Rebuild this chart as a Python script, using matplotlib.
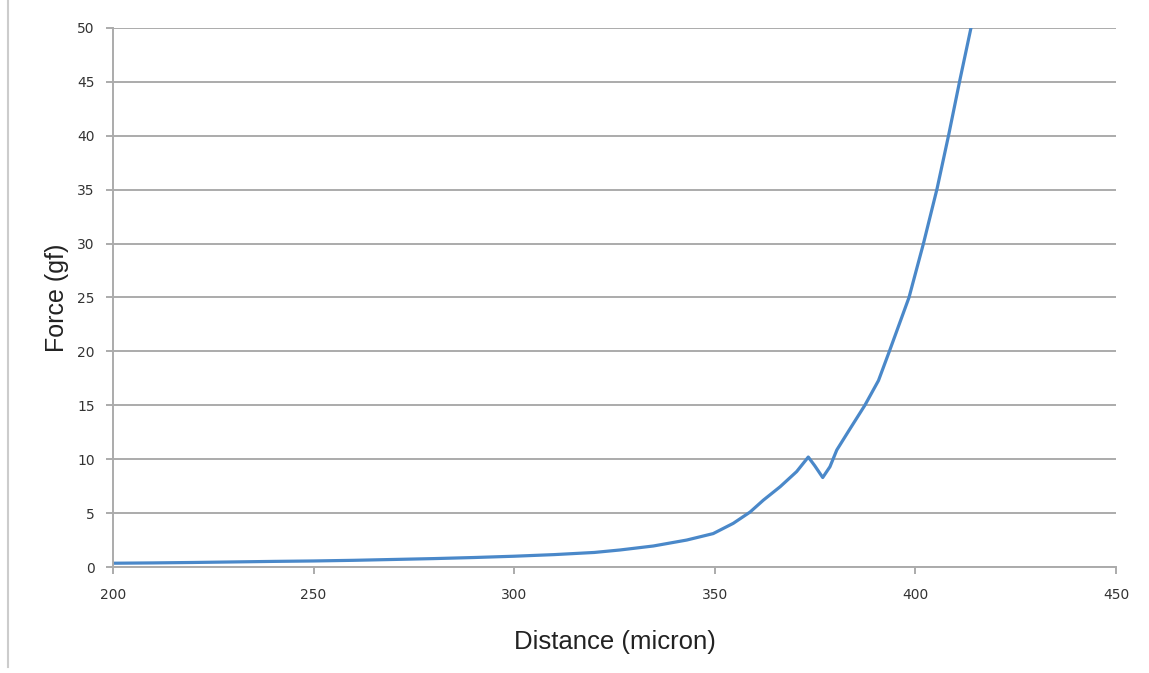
import matplotlib.pyplot as plt
from matplotlib.lines import Line2D

# force vs. distance readings
distance = [200, 210, 220, 230, 240, 250, 260, 270, 280, 290, 300, 310, 320,
            326.4, 334.7, 343.0, 349.6, 354.6, 358.8, 362.1, 366.3, 370.4,
            373.3, 374.9, 376.9, 378.7, 380.4, 383.5, 387.4, 390.8, 393.5,
            398.4, 402.0, 405.4, 408.3, 411.1, 413.9]
force = [0.35, 0.38, 0.42, 0.47, 0.52, 0.56, 0.62, 0.70, 0.78, 0.88, 1.0,
         1.15, 1.35, 1.58, 1.95, 2.5, 3.1, 4.05, 5.1, 6.2, 7.45, 8.85, 10.2,
         9.4, 8.3, 9.3, 10.85, 12.7, 15.0, 17.3, 20.0, 25.0, 30.0, 35.1, 40.1,
         45.2, 50.1]

x_ticks = [200, 250, 300, 350, 400, 450]
y_ticks = [0, 5, 10, 15, 20, 25, 30, 35, 40, 45, 50]

grid_col = '#ababab'

fig = plt.figure(figsize=(11.49, 6.73), dpi=100)
ax = fig.add_axes([0.0983, 0.1575, 0.873, 0.8009])

ax.plot(distance, force, color='#4a88c9', lw=2.3, solid_capstyle='round',
        solid_joinstyle='round')

ax.set_xlim(200, 450)
ax.set_ylim(0, 50)
ax.set_xticks(x_ticks)
ax.set_yticks(y_ticks)

ax.grid(axis='y', color=grid_col, lw=1.4)
ax.set_axisbelow(True)
for side in ['top', 'right']:
    ax.spines[side].set_visible(False)
for side in ['left', 'bottom']:
    ax.spines[side].set_color(grid_col)
    ax.spines[side].set_linewidth(1.4)

ax.tick_params(axis='both', colors=grid_col, width=1.4, length=5,
               labelcolor='#333333', labelsize=10)
ax.tick_params(axis='x', pad=10)
ax.tick_params(axis='y', pad=8)

ax.set_xlabel('Distance (micron)', family='Liberation Sans', fontsize=18.5,
              color='#222222', labelpad=20)
ax.set_ylabel('Force (gf)', family='Liberation Sans', fontsize=18,
              color='#222222', labelpad=6)

# thin frame edge on the left of the figure
fig.add_artist(Line2D([8 / 1149, 8 / 1149], [6 / 673, 1.0],
                      transform=fig.transFigure, color='#cccccc', lw=1.5))

fig.savefig('out.png', dpi=100)
